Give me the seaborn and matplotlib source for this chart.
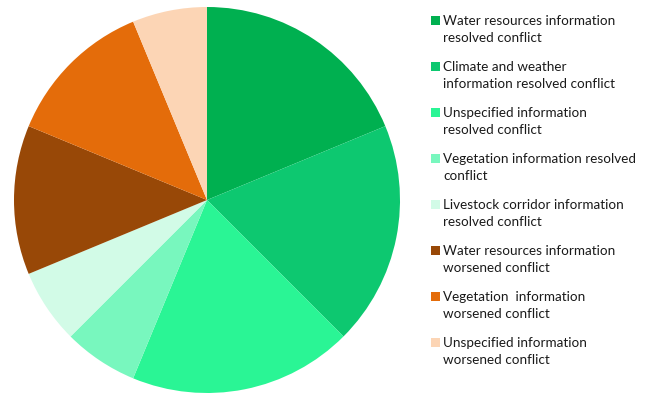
import matplotlib
matplotlib.use("Agg")
import matplotlib.pyplot as plt
import seaborn as sns
from matplotlib.patches import Rectangle

sns.set_theme(style="white")
plt.rcParams['font.family'] = ['Lato', 'DejaVu Sans']

categories = [
    "Water resources information\nresolved conflict",
    "Climate and weather\ninformation resolved conflict",
    "Unspecified information\nresolved conflict",
    "Vegetation information resolved\nconflict",
    "Livestock corridor information\nresolved conflict",
    "Water resources information\nworsened conflict",
    "Vegetation  information\nworsened conflict",
    "Unspecified information\nworsened conflict",
]
values = [3, 3, 3, 1, 1, 2, 2, 1]
colors = ["#00B050", "#0DC870", "#2AF595", "#78F7BE", "#D2FBE7",
          "#984807", "#E46C0A", "#FCD5B5"]

W, H = 646, 393
fig = plt.figure(figsize=(W / 100, H / 100), dpi=100)
cx, cy, r = 207, 200, 193
ax = fig.add_axes([(cx - r) / W, (H - cy - r) / H, 2 * r / W, 2 * r / H])
ax.pie(values, colors=colors, startangle=90, counterclock=False,
       wedgeprops=dict(linewidth=0), radius=1)
ax.set_xlim(-1, 1)
ax.set_ylim(-1, 1)
ax.set_aspect('equal')
ax.axis('off')

for i, (lab, col) in enumerate(zip(categories, colors)):
    y0 = 46 * i
    fig.patches.append(Rectangle((431 / W, 1 - (y0 + 25) / H), 9 / W, 9 / H,
                                 transform=fig.transFigure, facecolor=col,
                                 edgecolor='none'))
    for j, line in enumerate(lab.split("\n")):
        fig.text(443 / W, 1 - (y0 + 25 + 17.3 * j) / H, line,
                 fontsize=9.7, color="#1a1a1a", va='baseline', ha='left')

fig.savefig("out.png", dpi=100)
